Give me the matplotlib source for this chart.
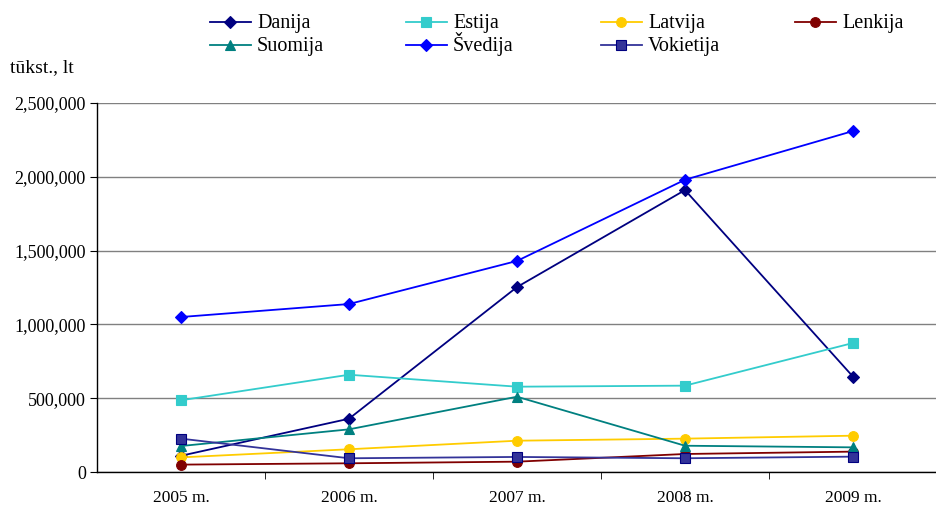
import matplotlib
matplotlib.use("Agg")
import matplotlib.pyplot as plt
from matplotlib.ticker import FuncFormatter, FixedLocator
from matplotlib.lines import Line2D

plt.rcParams['font.family'] = ['Liberation Serif', 'DejaVu Serif']

years = ["2005 m.", "2006 m.", "2007 m.", "2008 m.", "2009 m."]
danija    = [110000, 361000, 1253000, 1910000, 646000]
estija    = [486000, 659000, 578000, 585000, 874000]
latvija   = [99000, 154000, 212000, 226000, 246000]
lenkija   = [50000, 59000, 70000, 122000, 138000]
suomija   = [176000, 289000, 510000, 178000, 167000]
svedija   = [1050000, 1138000, 1430000, 1980000, 2310000]
vokietija = [226000, 93000, 102000, 93000, 104000]

series = [
    ("Danija", danija, "#000080", "#000080", "D", 6),
    ("Estija", estija, "#33CCCC", "#33CCCC", "s", 7),
    ("Latvija", latvija, "#FFCC00", "#FFCC00", "o", 7),
    ("Lenkija", lenkija, "#800000", "#800000", "o", 7),
    ("Suomija", suomija, "#008080", "#008080", "^", 7),
    ("Švedija", svedija, "#0000FF", "#0000FF", "D", 6),
    ("Vokietija", vokietija, "#333399", "#000080", "s", 7),
]

W, H = 937, 511
fig = plt.figure(figsize=(W / 100, H / 100), dpi=100)
ax = fig.add_axes([97 / W, 39 / H, 840 / W, 369 / H])

x = list(range(len(years)))
for name, vals, col, ec, mk, ms in series:
    ax.plot(x, vals, color=col, marker=mk, markersize=ms,
            markerfacecolor=col, markeredgecolor=ec, markeredgewidth=0.8,
            linewidth=1.3, label=name)

ax.set_xlim(-0.5, len(years) - 0.5)
ax.set_ylim(0, 2500000)
ax.set_yticks([0, 500000, 1000000, 1500000, 2000000, 2500000])
ax.yaxis.set_major_formatter(FuncFormatter(lambda v, p: f"{int(v):,}"))
ax.grid(axis='y', color='#808080', linewidth=1.0)
ax.set_axisbelow(True)

ax.set_xticks(x)
ax.set_xticklabels(years)
ax.tick_params(axis='x', which='major', length=0, pad=13, labelsize=12.5)
ax.xaxis.set_minor_locator(FixedLocator([0.5, 1.5, 2.5, 3.5]))
ax.tick_params(axis='x', which='minor', length=5, direction='out', color='black')
ax.tick_params(axis='y', length=5, direction='out', labelsize=13, pad=3)

for s in ['top', 'right']:
    ax.spines[s].set_visible(False)
for s in ['left', 'bottom']:
    ax.spines[s].set_color('black')
    ax.spines[s].set_linewidth(1.0)

fig.text(10 / W, 1 - 68 / H, "tūkst., lt", fontsize=14, va='center', ha='left')

# Legend drawn manually in a row-major grid (4 columns, 2 rows)
col_x = [210, 406, 601, 795]
row_y = [22, 45]
for i, (name, vals, col, ec, mk, ms) in enumerate(series):
    r, c = divmod(i, 4)
    x0 = col_x[c]
    y0 = 1 - row_y[r] / H
    fig.add_artist(Line2D([x0 / W, (x0 + 41) / W], [y0, y0], transform=fig.transFigure,
                          color=col, linewidth=1.3))
    fig.add_artist(Line2D([(x0 + 20.5) / W], [y0], transform=fig.transFigure,
                          color=col, marker=mk, markersize=ms, markerfacecolor=col,
                          markeredgecolor=ec, markeredgewidth=0.8, linestyle='none'))
    fig.text((x0 + 47) / W, 1 - (row_y[r] + 6) / H, name, fontsize=14.5,
             va='baseline', ha='left')

fig.savefig("out.png", dpi=100)
